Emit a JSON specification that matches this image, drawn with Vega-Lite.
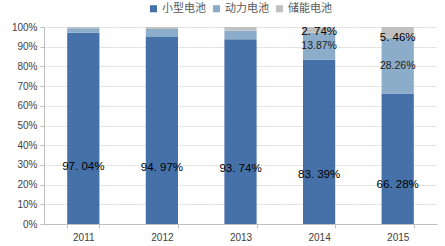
{
  "$schema": "https://vega.github.io/schema/vega-lite/v6.json",
  "width": 393,
  "height": 197,
  "autosize": {"type": "none"},
  "padding": {"left": 44, "top": 27, "right": 8, "bottom": 22},
  "background": "white",
  "config": {
    "view": {"stroke": null},
    "axisY": {
      "labelFont": "Liberation Sans",
      "labelFontSize": 10,
      "labelColor": "#404040",
      "labelPadding": 3,
      "domainColor": "#bfbfbf",
      "tickColor": "#bfbfbf",
      "tickSize": 4,
      "gridColor": "#d9d9d9",
      "gridDash": [2, 1],
      "labelOverlap": false
    }
  },
  "data": {
    "values": [
      {"year": "2011", "type": "小型电池", "order": 1, "value": 97.04, "label": "97. 04%"},
      {"year": "2011", "type": "动力电池", "order": 2, "value": 2.3, "label": ""},
      {"year": "2011", "type": "储能电池", "order": 3, "value": 0.66, "label": ""},
      {"year": "2012", "type": "小型电池", "order": 1, "value": 94.97, "label": "94. 97%"},
      {"year": "2012", "type": "动力电池", "order": 2, "value": 4.0, "label": ""},
      {"year": "2012", "type": "储能电池", "order": 3, "value": 1.03, "label": ""},
      {"year": "2013", "type": "小型电池", "order": 1, "value": 93.74, "label": "93. 74%"},
      {"year": "2013", "type": "动力电池", "order": 2, "value": 4.5, "label": ""},
      {"year": "2013", "type": "储能电池", "order": 3, "value": 1.76, "label": ""},
      {"year": "2014", "type": "小型电池", "order": 1, "value": 83.39, "label": "83. 39%"},
      {"year": "2014", "type": "动力电池", "order": 2, "value": 13.87, "label": "13.87%"},
      {"year": "2014", "type": "储能电池", "order": 3, "value": 2.74, "label": "2. 74%"},
      {"year": "2015", "type": "小型电池", "order": 1, "value": 66.28, "label": "66. 28%"},
      {"year": "2015", "type": "动力电池", "order": 2, "value": 28.26, "label": "28.26%"},
      {"year": "2015", "type": "储能电池", "order": 3, "value": 5.46, "label": "5. 46%"}
    ]
  },
  "transform": [
    {"stack": "value", "groupby": ["year"], "sort": [{"field": "order"}], "as": ["y0", "y1"]}
  ],
  "encoding": {
    "x": {
      "field": "year",
      "type": "nominal",
      "title": null,
      "scale": {"paddingInner": 0.59, "paddingOuter": 0.295},
      "axis": {
        "labelAngle": 0,
        "labelFont": "Liberation Sans",
        "labelFontSize": 10,
        "labelColor": "#404040",
        "labelPadding": 4,
        "domainColor": "#bfbfbf",
        "tickColor": "#bfbfbf",
        "tickSize": 4,
        "tickBand": "extent"
      }
    }
  },
  "layer": [
    {
      "mark": {"type": "bar"},
      "encoding": {
        "y": {
          "field": "y0",
          "type": "quantitative",
          "scale": {"domain": [0, 100], "nice": false},
          "title": null,
          "axis": {
            "values": [0, 10, 20, 30, 40, 50, 60, 70, 80, 90, 100],
            "labelExpr": "datum.value + '%'"
          }
        },
        "y2": {"field": "y1"},
        "color": {
          "field": "type",
          "type": "nominal",
          "sort": ["小型电池", "动力电池", "储能电池"],
          "scale": {
            "domain": ["小型电池", "动力电池", "储能电池"],
            "range": ["#4571a8", "#8badc9", "#c0c0c0"]
          },
          "legend": {
            "orient": "none",
            "legendX": 104,
            "legendY": -24,
            "direction": "horizontal",
            "title": null,
            "symbolType": "square",
            "symbolSize": 50,
            "symbolStrokeWidth": 0,
            "labelFont": "Noto Sans CJK SC",
            "labelFontSize": 11,
            "labelColor": "#595959",
            "labelOffset": 3,
            "columnPadding": 5
          }
        }
      }
    },
    {
      "transform": [{"filter": "datum.order == 1"}, {"calculate": "datum.value * 0.3", "as": "ly"}],
      "mark": {"type": "text", "font": "Liberation Sans", "fontSize": 11.5, "color": "black"},
      "encoding": {
        "y": {"field": "ly", "type": "quantitative", "title": null, "axis": {"values": [0, 10, 20, 30, 40, 50, 60, 70, 80, 90, 100], "labelExpr": "datum.value + '%'"}},
        "text": {"field": "label"}
      }
    },
    {
      "transform": [{"filter": "datum.order == 2 && datum.label != ''"}, {"calculate": "(datum.y0 + datum.y1) / 2", "as": "ly"}],
      "mark": {"type": "text", "font": "Liberation Sans", "fontSize": 10.5, "color": "#222222"},
      "encoding": {
        "y": {"field": "ly", "type": "quantitative", "title": null, "axis": {"values": [0, 10, 20, 30, 40, 50, 60, 70, 80, 90, 100], "labelExpr": "datum.value + '%'"}},
        "text": {"field": "label"}
      }
    },
    {
      "transform": [{"filter": "datum.order == 3 && datum.label != ''"}],
      "mark": {"type": "text", "font": "Liberation Sans", "fontSize": 11.5, "color": "black"},
      "encoding": {
        "y": {"field": "y0", "type": "quantitative", "title": null, "axis": {"values": [0, 10, 20, 30, 40, 50, 60, 70, 80, 90, 100], "labelExpr": "datum.value + '%'"}},
        "text": {"field": "label"}
      }
    }
  ]
}
